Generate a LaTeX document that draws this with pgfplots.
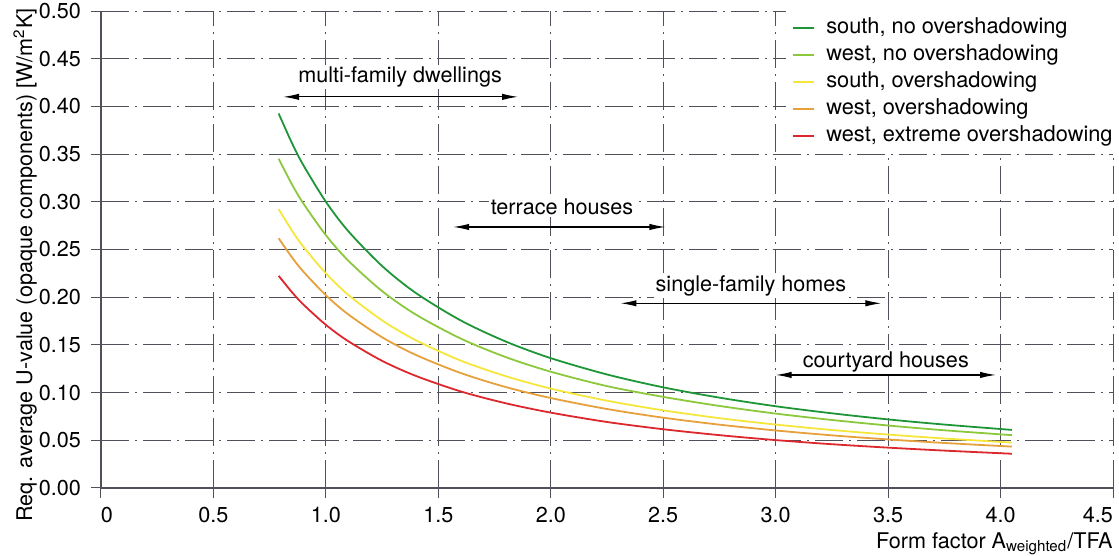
\documentclass[border=0pt]{standalone}
\usepackage{fontspec}
\setmainfont{TeX Gyre Heros}
\usepackage{pgfplots}
\usepackage{pgfplotstable}
\pgfplotsset{compat=1.18}
\usetikzlibrary{arrows.meta}

\definecolor{cSouthNo}{RGB}{30,150,55}
\definecolor{cWestNo}{RGB}{140,200,60}
\definecolor{cSouthOv}{RGB}{245,230,60}
\definecolor{cWestOv}{RGB}{230,160,60}
\definecolor{cWestEx}{RGB}{220,40,45}
\definecolor{gridgray}{RGB}{80,80,90}

% Required average U-value of the opaque components vs. form factor
\pgfplotstableread{
x     sno     wno     sov     wov     wex
0.79  0.3925  0.3451  0.2923  0.2618  0.2224
0.85  0.3611  0.3179  0.2695  0.2415  0.2050
0.90  0.3383  0.2982  0.2529  0.2268  0.1923
1.00  0.3000  0.2650  0.2250  0.2020  0.1710
1.10  0.2691  0.2382  0.2024  0.1819  0.1538
1.25  0.2327  0.2064  0.1757  0.1580  0.1333
1.40  0.2044  0.1818  0.1549  0.1395  0.1175
1.60  0.1756  0.1566  0.1335  0.1205  0.1012
1.80  0.1535  0.1372  0.1172  0.1058  0.0888
2.00  0.1361  0.1219  0.1042  0.0943  0.0790
2.25  0.1190  0.1068  0.0915  0.0828  0.0692
2.50  0.1055  0.0955  0.0814  0.0737  0.0616
2.75  0.0947  0.0860  0.0732  0.0664  0.0554
3.00  0.0857  0.0780  0.0665  0.0603  0.0502
3.25  0.0783  0.0713  0.0608  0.0552  0.0459
3.50  0.0719  0.0655  0.0560  0.0509  0.0423
3.75  0.0665  0.0605  0.0519  0.0472  0.0392
4.05  0.0609  0.0554  0.0476  0.0434  0.0359
}\uvalues

\tikzset{
  range arrow/.style={{Latex[length=8pt,width=3.2pt]}-{Latex[length=8pt,width=3.2pt]}, line width=0.6pt, black},
  range label/.style={fill=white, inner sep=1pt, font=\fontsize{10.8}{12.8}\selectfont},
}

\begin{document}
\begin{tikzpicture}
\begin{axis}[
  at={(0,0)}, anchor=south west,
  scale only axis, width=506pt, height=238.5pt,
  xmin=0, xmax=4.5, ymin=0, ymax=0.5,
  axis x line*=bottom, axis y line*=left,
  axis line style={draw=gridgray, line width=0.6pt},
  xtick={0,0.5,1,1.5,2,2.5,3,3.5,4,4.5},
  xticklabels={\rlap{0},0.5,1.0,1.5,2.0,2.5,3.0,3.5,4.0,\llap{4.5}},
  ytick={0,0.05,0.1,0.15,0.2,0.25,0.3,0.35,0.4,0.45,0.5},
  yticklabels={0.00,0.05,0.10,0.15,0.20,0.25,0.30,0.35,0.40,0.45,0.50},
  tick align=outside, major tick length=5pt,
  tick style={draw=gridgray, line width=0.5pt},
  grid=major,
  major grid style={draw=gridgray, line width=0.5pt, dash pattern=on 14pt off 3pt on 1pt off 3pt},
  tick label style={font=\fontsize{10.8}{12.8}\selectfont},
  /pgf/number format/assume math mode=true,
  xticklabel style={yshift=-1pt},
  yticklabel style={xshift=-1.5pt},
  xlabel={Form factor A\textsubscript{weighted}/TFA},
  xlabel style={at={(rel axis cs:1,0)}, anchor=north east, yshift=-22pt, inner sep=0pt, font=\fontsize{10.8}{12.8}\selectfont},
  ylabel={Req. average U-value (opaque components) [W/m\textsuperscript{2}K]},
  ylabel style={at={(axis description cs:-0.075,0.4675)}, anchor=center, inner sep=0pt, font=\fontsize{10.8}{12.8}\selectfont},
  legend cell align=left,
  legend style={at={(rel axis cs:1,1)}, anchor=north east, xshift=5pt, draw=none, fill=white,
    font=\fontsize{10.9}{12.8}\selectfont,
    nodes={inner ysep=1.5pt, text height=7.5pt, text depth=2.5pt},
    row sep=0.5pt,
    /tikz/every odd column/.append style={column sep=3.5pt}},
  legend image code/.code={\draw[#1, line width=1pt] (0pt,0pt) -- (10.5pt,0pt);},
  every axis plot/.append style={line width=0.9pt, smooth},
]
\addplot[cSouthNo] table[x=x, y=sno] {\uvalues};
\addlegendentry{south, no overshadowing}
\addplot[cWestNo] table[x=x, y=wno] {\uvalues};
\addlegendentry{west, no overshadowing}
\addplot[cSouthOv] table[x=x, y=sov] {\uvalues};
\addlegendentry{south, overshadowing}
\addplot[cWestOv] table[x=x, y=wov] {\uvalues};
\addlegendentry{west, overshadowing}
\addplot[cWestEx] table[x=x, y=wex] {\uvalues};
\addlegendentry{west, extreme overshadowing}

% building type ranges
\draw[range arrow] (axis cs:0.81,0.410) -- (axis cs:1.855,0.410);
\node[range label] at (axis cs:1.33,0.431) {multi-family dwellings};
\draw[range arrow] (axis cs:1.566,0.2736) -- (axis cs:2.51,0.2736);
\node[range label] at (axis cs:2.05,0.2946) {terrace houses};
\draw[range arrow] (axis cs:2.31,0.1936) -- (axis cs:3.47,0.1936);
\node[range label] at (axis cs:2.89,0.212) {single-family homes};
\draw[range arrow] (axis cs:3.0,0.1185) -- (axis cs:3.98,0.1185);
\node[range label] at (axis cs:3.49,0.132) {courtyard houses};
\end{axis}
\pgfresetboundingbox
\path[use as bounding box] (-50.5pt,-34pt) rectangle (509pt,244pt);
\end{tikzpicture}
\end{document}
